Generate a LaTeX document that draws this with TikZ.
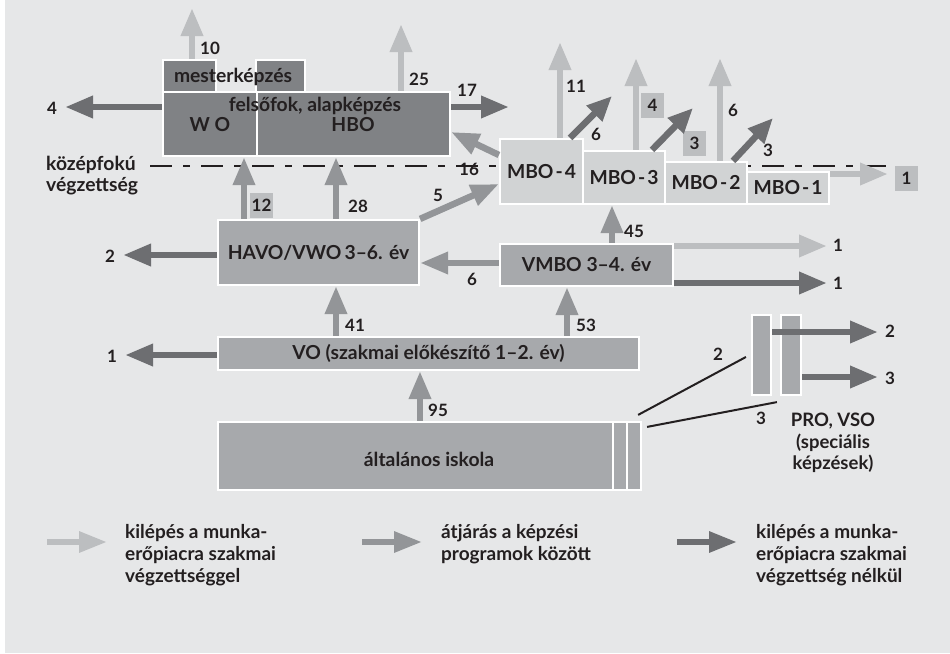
\documentclass[tikz,border=0pt]{standalone}
\usepackage{fontspec}
\setmainfont{Lato}
\usetikzlibrary{arrows.meta,calc}
\definecolor{bg}{HTML}{E6E7E8}
\definecolor{arrD}{HTML}{6D6E71}
\definecolor{arrM}{HTML}{939598}
\definecolor{arrL}{HTML}{BCBEC0}
\definecolor{boxD}{HTML}{808285}
\definecolor{boxM}{HTML}{A7A9AC}
\definecolor{boxL}{HTML}{D1D3D4}
\definecolor{tagL}{HTML}{BCBEC0}
\definecolor{ink}{HTML}{231F20}
\newcommand{\boxfont}{\bfseries\fontsize{19.3}{22}\selectfont}
\newcommand{\numfont}{\bfseries\fontsize{17}{19}\selectfont}
\newcommand{\hy}{\kern2pt-\kern2pt}
\begin{document}
\begin{tikzpicture}[x=1pt,y=-1pt,
  box/.style={draw=white,line width=2.2pt,inner sep=0pt,text=ink,font=\boxfont},
  lab/.style={text=ink,inner sep=0pt,font=\numfont},
  blab/.style={text=ink,inner sep=0pt,font=\boxfont},
  tag/.style={fill=tagL,minimum width=23pt,minimum height=25pt,inner sep=0pt,text=ink,font=\numfont},
  arr/.style={line width=6.5pt,-{Triangle[length=28pt,width=21pt]}},
  arrd/.style={arr,draw=arrD},
  arrm/.style={arr,draw=arrM},
  arrl/.style={arr,draw=arrL},
  diag/.style={line width=6.5pt,draw=arrD,-{Triangle[length=25pt,width=21pt]}},
  legarr/.style={line width=6pt,-{Triangle[length=28pt,width=20pt]}},
  legtext/.style={text=ink,inner sep=0pt,anchor=west,align=left,font=\bfseries\fontsize{19}{22}\selectfont},
  midline/.style={draw=ink,line width=2.5pt,dash pattern=on 22pt off 11pt on 7pt off 11pt},
  thin/.style={draw=ink,line width=2pt}]
\useasboundingbox (0,0) rectangle (950,653);
\fill[white] (0,0) rectangle (950,653);
\fill[bg] (5,0) rectangle (950,653);

% dashed level line
\coordinate (dl) at (150,166);
\coordinate (dr) at (895,166);
\draw[midline] (dl) -- (dr);

% boxes
\node[box,fill=boxD,minimum width=53pt,minimum height=32pt] (m1) at (189.5,76) {};
\node[box,fill=boxD,minimum width=49pt,minimum height=32pt] (m2) at (280.5,76) {};
\node[box,fill=boxD,minimum width=94pt,minimum height=64pt] (wo) at (210,124) {};
\node[box,fill=boxD,minimum width=193pt,minimum height=64pt] (hbo) at (353.5,124) {};
\node[box,fill=boxL,minimum width=83pt,minimum height=65pt] (mbo4) at (541.5,171.5) {MBO\hy 4};
\node[box,fill=boxL,minimum width=82pt,minimum height=53pt] (mbo3) at (624,177.5) {MBO\hy 3};
\node[box,fill=boxL,minimum width=82pt,minimum height=42pt] (mbo2) at (706,183) {MBO\hy 2};
\node[box,fill=boxL,minimum width=82pt,minimum height=32pt] (mbo1) at (788,188) {MBO\hy 1};
\node[box,fill=boxM,minimum width=201pt,minimum height=65pt] (havo) at (318.5,252.5) {HAVO/VWO\,3--6. év};
\node[box,fill=boxM,minimum width=173pt,minimum height=42pt] (vmbo) at (586.5,265) {VMBO 3--4. év};
\node[box,fill=boxM,minimum width=421pt,minimum height=33pt] (vo) at (428.5,353.5) {VO (szakmai előkészítő 1--2. év)};
\node[box,fill=boxM,minimum width=423pt,minimum height=68pt] (gen) at (429.5,456) {};
\node[box,fill=boxM,minimum width=19pt,minimum height=80pt] (pro1) at (761.5,355) {};
\node[box,fill=boxM,minimum width=20pt,minimum height=80pt] (pro2) at (791,355) {};
\draw[white,line width=2pt] (gen.north -| 613,0) -- (gen.south -| 613,0);
\draw[white,line width=2pt] (gen.north -| 627,0) -- (gen.south -| 627,0);

% box texts
\node[blab] (tmester) at (233,77) {mesterképzés};
\node[blab] (tfelso) at (315,106) {felsőfok, alapképzés};
\node[blab] (thbo) at (353,125) {HBO};
\node[blab] (two) at (210,125) {W O};
\node[blab] (tgen) at (429,459) {általános iskola};
\node[blab,align=center,font=\bfseries\fontsize{18.5}{21.5}\selectfont] (tpro) at (833,443) {PRO, VSO\\(speciális\\képzések)};
\node[blab,anchor=west,align=left,font=\bfseries\fontsize{19.3}{21}\selectfont] (tkozep) at (46,176) {középfokú\\végzettség};

% tags
\node[tag] (tag12) at (261.5,205.5) {12};
\node[tag] (tag4) at (652.5,105.5) {4};
\node[tag] (tag3) at (694.5,143.5) {3};
\node[tag] (tag1) at (906.5,178) {1};

% free ends
\coordinate (e10) at (192,8);
\coordinate (e4) at (65,107);
\coordinate (e25) at (401,24);
\coordinate (e17) at (509,107);
\coordinate (e11) at (560,42);
\coordinate (e6d) at (612,96);
\coordinate (e4up) at (636,58);
\coordinate (e3d) at (693,108);
\coordinate (e6up) at (720,58);
\coordinate (e3d2) at (773,118);
\coordinate (e1r) at (888,174);
\coordinate (e2l) at (123,255);
\coordinate (e1lt) at (827,246);
\coordinate (e1dk) at (827,283);
\coordinate (e1vo) at (125,355);
\coordinate (ep2) at (878,332);
\coordinate (ep3) at (878,377);

% arrows
\draw[arrl] (m1.north -| e10) -- (e10);
\draw[arrd] (wo.west |- e4) -- (e4);
\draw[arrl] (hbo.north -| e25) -- (e25);
\draw[arrd] (hbo.east |- e17) -- (e17);
\draw[arrm] (mbo4.west |- 0,155) -- (hbo.east |- 0,132);
\draw[arrl] (mbo4.north -| e11) -- (e11);
\draw[diag] (mbo4.north -| 570,0) -- (e6d);
\draw[arrl] (mbo3.north -| e4up) -- (e4up);
\draw[diag] (mbo3.north -| 652,0) -- (e3d);
\draw[arrl] (mbo2.north -| e6up) -- (e6up);
\draw[diag] (mbo2.north -| 733,0) -- (e3d2);
\draw[arrl] (mbo1.east |- e1r) -- (e1r);
\draw[arrm] (havo.north -| 244,0) -- (wo.south -| 244,0);
\draw[arrm] (havo.north -| 336,0) -- (hbo.south -| 336,0);
\draw[arrm] (havo.north east) -- (mbo4.west |- 0,184);
\draw[arrd] (havo.west |- e2l) -- (e2l);
\draw[arrm] (vmbo.west |- 0,263) -- (havo.east |- 0,263);
\draw[arrm] (vmbo.north -| 612,0) -- (mbo3.south -| 612,0);
\draw[arrl] (vmbo.east |- e1lt) -- (e1lt);
\draw[arrd] (vmbo.east |- e1dk) -- (e1dk);
\draw[arrm] (vo.north -| 336,0) -- (havo.south -| 336,0);
\draw[arrm] (vo.north -| 567,0) -- (vmbo.south -| 567,0);
\draw[arrd] (vo.west |- e1vo) -- (e1vo);
\draw[arrm] (gen.north -| 420,0) -- (vo.south -| 420,0);
\draw[arrd] (pro1.east |- ep2) -- (ep2);
\draw[arrd] (pro2.east |- ep3) -- (ep3);
\draw[thin] ([shift={(-4,-6)}]gen.north east) -- ([shift={(-5,2)}]pro1.west);
\draw[thin] ([shift={(5,6)}]gen.north east) -- ([shift={(-3,6)}]pro2.south west);

% number labels
\node[lab] (l10) at (210,48) {10};
\node[lab] (l4) at (52,108) {4};
\node[lab] (l25) at (419,79) {25};
\node[lab] (l17) at (467,90) {17};
\node[lab] (l16) at (469,169) {16};
\node[lab] (l11) at (576,86) {11};
\node[lab] (l6a) at (596,134) {6};
\node[lab] (l6b) at (733,110) {6};
\node[lab] (l3b) at (768,150) {3};
\node[lab] (l28) at (358,206) {28};
\node[lab] (l5) at (438,195) {5};
\node[lab] (l2) at (110,256) {2};
\node[lab] (l6c) at (472,279) {6};
\node[lab] (l45) at (634,231) {45};
\node[lab] (l1a) at (838,245) {1};
\node[lab] (l1b) at (838,283) {1};
\node[lab] (l41) at (355,325) {41};
\node[lab] (l53) at (586,325) {53};
\node[lab] (l1c) at (112,356) {1};
\node[lab] (l95) at (438,410) {95};
\node[lab] (l2d) at (718,354) {2};
\node[lab] (l3d) at (761,418) {3};
\node[lab] (l2e) at (890,331) {2};
\node[lab] (l3e) at (890,378) {3};

% legend
\coordinate (g1a) at (47,542); \coordinate (g1b) at (107,542);
\coordinate (g2a) at (362,542); \coordinate (g2b) at (422,542);
\coordinate (g3a) at (677,542); \coordinate (g3b) at (737,542);
\draw[legarr,draw=arrL] (g1a) -- (g1b);
\draw[legarr,draw=arrM] (g2a) -- (g2b);
\draw[legarr,draw=arrD] (g3a) -- (g3b);
\node[legtext] (lg1) at (125,555) {kilépés a munka-\\erőpiacra szakmai\\végzettséggel};
\node[legtext] (lg2) at (441,544) {átjárás a képzési\\programok között};
\node[legtext] (lg3) at (756,555) {kilépés a munka-\\erőpiacra szakmai\\végzettség nélkül};
\end{tikzpicture}
\end{document}
